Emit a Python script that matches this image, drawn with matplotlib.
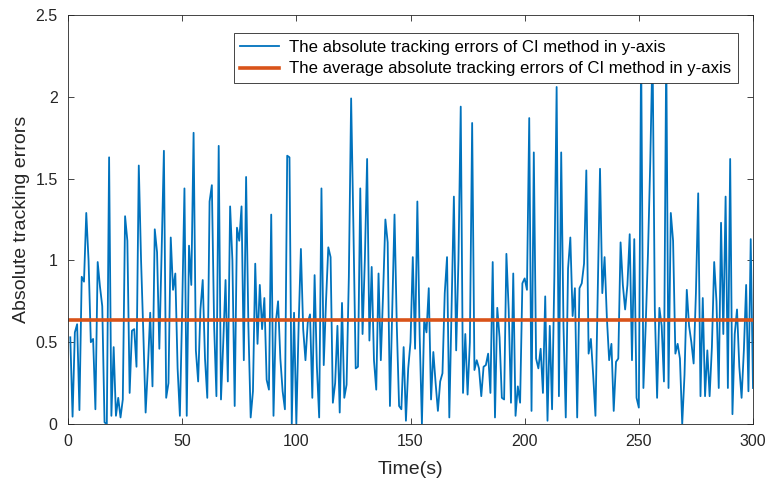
import numpy as np
import matplotlib
matplotlib.use("Agg")
import matplotlib.pyplot as plt

plt.rcParams['font.family'] = ['Liberation Sans', 'DejaVu Sans']

time_s = list(range(1, 301))
abs_errors = [
    0.53, 0.045, 0.56, 0.61, 0.085, 0.90, 0.87, 1.29, 1.0, 0.50,
    0.52, 0.09, 0.99, 0.84, 0.72, 0.01, 0.0, 1.63, 0.05, 0.47,
    0.05, 0.16, 0.04, 0.15, 1.27, 1.12, 0.19, 0.57, 0.58, 0.35,
    1.58, 1.0, 0.55, 0.07, 0.35, 0.68, 0.23, 1.19, 1.05, 0.46,
    1.05, 1.67, 0.16, 0.25, 1.14, 0.82, 0.92, 0.34, 0.05, 0.7,
    1.44, 0.05, 1.09, 0.85, 1.78, 0.45, 0.26, 0.70, 0.88, 0.40,
    0.16, 1.36, 1.46, 0.6, 0.17, 1.70, 0.15, 0.5, 0.88, 0.26,
    1.33, 1.0, 0.11, 1.20, 1.12, 1.33, 0.39, 1.51, 0.6, 0.04,
    0.2, 0.98, 0.49, 0.85, 0.58, 0.77, 0.27, 0.21, 1.28, 0.05,
    0.62, 0.75, 0.40, 0.20, 0.09, 1.64, 1.63, 0.0, 0.68, 0.0,
    0.6, 1.07, 0.58, 0.39, 0.62, 0.67, 0.16, 0.91, 0.35, 0.04,
    1.44, 0.36, 0.75, 1.08, 1.02, 0.13, 0.25, 0.60, 0.07, 0.74,
    0.16, 0.24, 0.9, 1.99, 1.2, 0.34, 0.35, 1.44, 0.55, 1.0,
    1.62, 0.51, 0.96, 0.39, 0.21, 0.92, 0.39, 0.8, 1.25, 1.11,
    0.11, 0.7, 1.28, 0.6, 0.11, 0.09, 0.47, 0.02, 0.34, 0.5,
    1.02, 0.46, 1.36, 0.55, 0.0, 0.64, 0.56, 0.83, 0.15, 0.44,
    0.25, 0.08, 0.26, 0.31, 0.8, 1.02, 0.04, 0.7, 1.39, 0.45,
    1.0, 1.94, 0.19, 0.55, 0.18, 0.5, 1.84, 0.33, 0.39, 0.34,
    0.17, 0.35, 0.36, 0.43, 0.19, 0.99, 0.04, 0.71, 0.53, 0.16,
    0.15, 1.04, 0.7, 0.13, 0.92, 0.05, 0.23, 0.13, 0.86, 0.89,
    0.82, 1.87, 0.08, 1.66, 0.40, 0.34, 0.46, 0.19, 0.78, 0.02,
    0.60, 0.09, 0.9, 2.06, 0.17, 1.66, 0.6, 0.04, 0.95, 1.14,
    0.66, 0.83, 0.04, 0.83, 0.86, 0.98, 1.55, 0.43, 0.52, 0.3,
    0.05, 0.8, 1.56, 0.80, 1.02, 0.65, 0.39, 0.49, 0.08, 0.38,
    0.40, 1.11, 0.85, 0.70, 0.85, 1.16, 0.39, 1.13, 0.16, 0.1,
    2.3, 0.22, 0.6, 1.04, 1.6, 2.3, 0.7, 0.16, 0.71, 0.6,
    0.26, 2.3, 0.22, 1.29, 1.12, 0.43, 0.49, 0.40, 0.0, 0.3,
    0.82, 0.6, 0.5, 0.37, 0.8, 1.41, 0.17, 0.77, 0.17, 0.45,
    0.17, 0.47, 0.99, 0.75, 0.22, 1.23, 0.55, 1.39, 0.22, 1.62,
    0.06, 0.55, 0.70, 0.35, 0.16, 0.45, 0.85, 0.2, 1.13, 0.22,
]
avg_error = 0.636

x_ticks = [0, 50, 100, 150, 200, 250, 300]
y_ticks = [0, 0.5, 1, 1.5, 2, 2.5]
y_tick_labels = ["0", "0.5", "1", "1.5", "2", "2.5"]

fig = plt.figure(figsize=(7.71, 4.87), dpi=100)
ax = fig.add_axes([68/771, 1 - 424/487, (753-68)/771, (424-15)/487])

ax.plot(time_s, abs_errors, color='#0072BD', lw=1.3,
        label='The absolute tracking errors of CI method in y-axis')
ax.plot([time_s[0], time_s[-1]], [avg_error, avg_error], color='#D95319', lw=2.6,
        label='The average absolute tracking errors of CI method in y-axis')

ax.set_xlim(0, 300)
ax.set_ylim(0, 2.5)
ax.set_xticks(x_ticks)
ax.set_yticks(y_ticks)
ax.set_yticklabels(y_tick_labels)
ax.tick_params(direction='in', top=True, right=True, labelsize=11.5, colors='#262626',
               length=4, width=0.6)
ax.tick_params(axis='x', pad=7)
ax.tick_params(axis='y', pad=7.5)
for s in ax.spines.values():
    s.set_color('#262626')
    s.set_linewidth(0.6)

ax.set_xlabel('Time(s)', fontsize=14, color='#262626', labelpad=9)
ax.set_ylabel('Absolute tracking errors', fontsize=14, color='#262626', labelpad=4)

leg = ax.legend(loc='upper right', bbox_to_anchor=((738-68)/685, (424-33)/409),
                fontsize=12.1, frameon=True, fancybox=False, edgecolor='#262626',
                framealpha=1, handlelength=2.3, borderpad=0.4, labelspacing=0.4,
                handletextpad=0.6, borderaxespad=0)
leg.get_frame().set_linewidth(0.6)

fig.savefig('out.png', dpi=100)
